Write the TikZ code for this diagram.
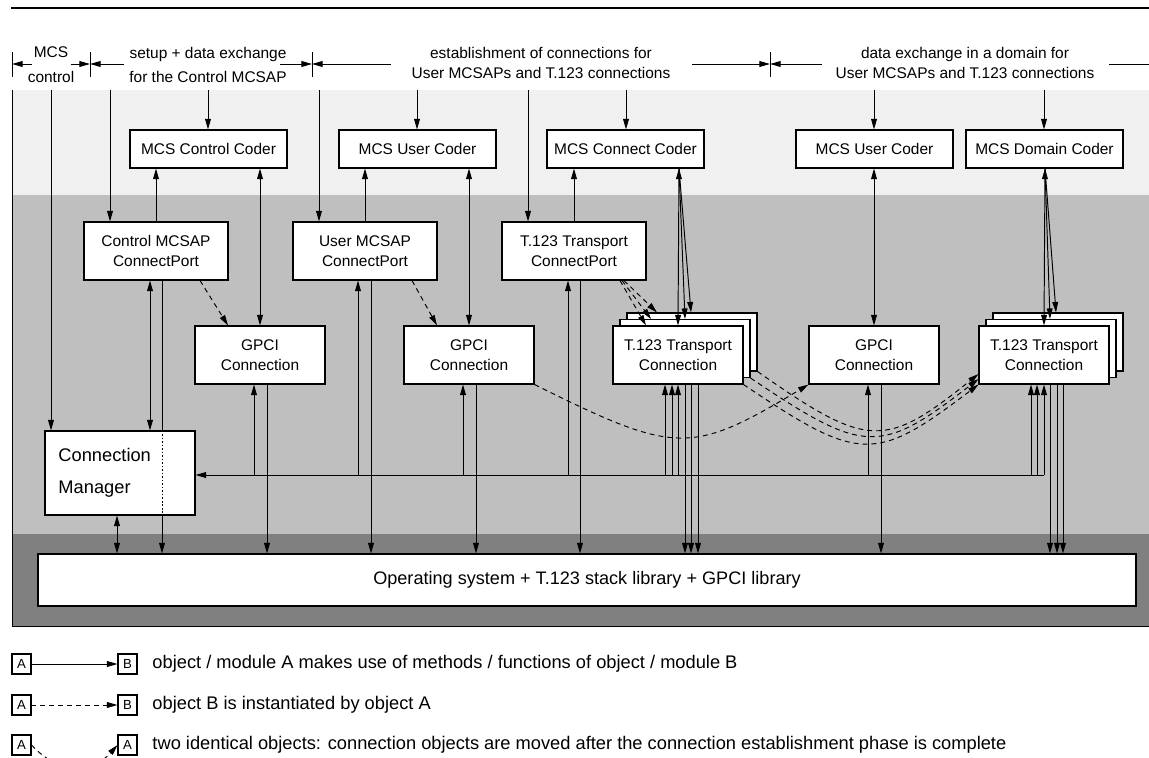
\documentclass[tikz,border=0pt]{standalone}
\usepackage{fontspec}
\setmainfont{Liberation Sans}
\usetikzlibrary{arrows.meta}
\definecolor{layerlight}{gray}{0.941}
\definecolor{layermid}{gray}{0.749}
\definecolor{layerdark}{gray}{0.502}
\begin{document}
\begin{tikzpicture}[x=0.02cm, y=-0.02cm,
  font=\fontsize{8.8}{11.3}\selectfont,
  line width=0.55pt,
  >={Triangle[length=6pt,width=3.3pt]},
  box/.style={draw, fill=white, line width=0.6pt, inner sep=0pt, align=center},
  sz/.style 2 args={minimum width=#1*0.02cm, minimum height=#2*0.02cm},
  coder/.style={box, sz={157}{38}},
  port/.style={box, sz={144}{58}},
  conn/.style={box, sz={130}{58}},
  inst/.style={->, dash pattern=on 2.8pt off 2.3pt},
  legbox/.style={box, sz={19}{20}, font=\fontsize{7.5}{9}\selectfont},
  legtext/.style={anchor=west, inner sep=0pt, font=\fontsize{10.4}{12}\selectfont},
  hdwide/.style={align=center, font=\fontsize{8.8}{14}\selectfont},
  hdnarrow/.style={align=center, font=\fontsize{8.8}{11.3}\selectfont},
]
\useasboundingbox (0,0) rectangle (1149,757);
\clip (0,0) rectangle (1149,757);

% ---- layers of the architecture ----
\fill[layerlight] (12,90) rectangle (1149,195);
\fill[layermid] (12,195) rectangle (1149,534);
\fill[layerdark] (12,534) rectangle (1149,626);
\draw (12,90) -- (12,626) -- (1149,626);
\draw[line width=0.7pt] (11,8) -- (1149,8);

% ---- phase headings with dimension marks ----
\foreach \x/\n in {12/t0, 90/t1, 312/t2, 770/t3} {
  \coordinate (\n) at (\x,64);
  \draw (\x,52) -- (\x,77);
}
\node[hdwide] (hdA) at (51,64.5) {MCS\\control};
\node[hdwide] (hdB) at (208,65) {setup + data exchange\\for the Control MCSAP};
\node[hdnarrow] (hdC) at (541,63) {establishment of connections for\\User MCSAPs and T.123 connections};
\node[hdnarrow] (hdD) at (965,63) {data exchange in a domain for\\User MCSAPs and T.123 connections};
\draw[->] (32,64) -- (t0);
\draw[->] (71,64) -- (t1);
\draw[->] (124,64) -- (t1);
\draw[->] (280,64) -- (t2);
\draw[->] (391,64) -- (t2);
\draw[->] (692,64) -- (t3);
\draw[->] (822,64) -- (t3);
\draw (1109,64) -- (1149,64);

% ---- coders ----
\node[coder] (ccoder)  at (208.5,149) {MCS Control Coder};
\node[coder] (ucoder1) at (417.5,149) {MCS User Coder};
\node[coder] (kcoder)  at (625.5,149) {MCS Connect Coder};
\node[coder] (ucoder2) at (874.5,149) {MCS User Coder};
\node[coder] (dcoder)  at (1044.5,149) {MCS Domain Coder};

% ---- connect ports ----
\node[port] (cport1) at (156,251) {Control MCSAP\\ConnectPort};
\node[port] (uport)  at (365,251) {User MCSAP\\ConnectPort};
\node[port] (tport)  at (574,251) {T.123 Transport\\ConnectPort};

% ---- connection objects ----
\node[conn] (gpci1) at (260,355) {GPCI\\Connection};
\node[conn] (gpci2) at (469,355) {GPCI\\Connection};
\node[conn] (tconn1c) at (692,342) {};
\node[conn] (tconn1b) at (685,348.5) {};
\node[conn] (tconn1)  at (678,355) {T.123 Transport\\Connection};
\node[conn] (gpci3) at (874,355) {GPCI\\Connection};
\node[conn] (tconn2c) at (1058,342) {};
\node[conn] (tconn2b) at (1051,348.5) {};
\node[conn] (tconn2)  at (1044,355) {T.123 Transport\\Connection};

% ---- connection manager and operating system ----
\node[box, sz={150}{84}] (cm) at (120,473) {};
\node[anchor=west, inner sep=0pt, align=left, font=\fontsize{10.4}{18.1}\selectfont] (cmlabel) at (58,473) {Connection\\Manager};
\node[box, sz={1098}{52}, font=\fontsize{10.3}{12}\selectfont] (os) at (587,580) {Operating system + T.123 stack library + GPCI library};

\coordinate (bandtop) at (0,90);
\coordinate (bus) at (0,475);

% ---- calls entering from the phases above ----
\foreach \x/\n in {51/cm, 110/cport1, 208/ccoder, 319/uport, 417/ucoder1, 528/tport, 626/kcoder, 874/ucoder2, 1044/dcoder}
  \draw[->] (bandtop -| \x,0) -- (\n.north -| \x,0);

% ---- ports use their coders ----
\draw[->] (cport1.north) -- (ccoder.south -| cport1.north);
\draw[->] (uport.north) -- (ucoder1.south -| uport.north);
\draw[->] (tport.north) -- (kcoder.south -| tport.north);

% ---- coders and connection objects ----
\draw[<->] (ccoder.south -| gpci1.north) -- (gpci1.north);
\draw[<->] (ucoder1.south -| gpci2.north) -- (gpci2.north);
\draw[<->] (ucoder2.south -| gpci3.north) -- (gpci3.north);
\draw[<->] (kcoder.south -| 679,0) -- (tconn1.north);
\draw[->] (kcoder.south -| 679,0) -- (tconn1b.north -| 685,0);
\draw[->] (kcoder.south -| 679,0) -- (tconn1c.north -| 691,0);
\draw[<->] (dcoder.south -| 1045,0) -- (tconn2.north);
\draw[->] (dcoder.south -| 1045,0) -- (tconn2b.north -| 1050,0);
\draw[->] (dcoder.south -| 1045,0) -- (tconn2c.north -| 1056,0);

% ---- instantiation by the ports ----
\draw[inst] (cport1.south -| 200,0) -- (gpci1.north -| 228,0);
\draw[inst] (uport.south -| 412,0) -- (gpci2.north -| 437,0);
\draw[inst] (tport.south -| 620,0) -- (tconn1.north -| 646,0);
\draw[inst] (tport.south -| 622,0) -- (tconn1b.north -| 651,0);
\draw[inst] (tport.south -| 624,0) -- (tconn1c.north -| 657,0);

% ---- connection manager links ----
\draw[<->] (cport1.south -| 150,0) -- (cm.north -| 150,0);
\draw (cport1.south -| 162,0) -- (cm.north -| 162,0);
\draw[dash pattern=on 1pt off 1pt] (cm.north -| 162,0) -- (cm.south -| 162,0);
\draw[->] (cm.south -| 162,0) -- (os.north -| 162,0);
\draw[<->] (cm.south -| 117,0) -- (os.north -| 117,0);

% ---- common bus towards the connection manager ----
\draw[->] (bus -| 1044,0) -- (bus -| cm.east);
\foreach \n/\x in {gpci1/254, uport/358, gpci2/463, tport/568, tconn1/665, tconn1/672, tconn1/678, gpci3/868, tconn2/1031, tconn2/1037, tconn2/1044}
  \draw[->] (bus -| \x,0) -- (\n.south -| \x,0);

% ---- calls into the operating system ----
\foreach \n/\x in {gpci1/267, uport/371, gpci2/476, tport/580, tconn1/685, tconn1/691, tconn1/698, gpci3/881, tconn2/1050, tconn2/1057, tconn2/1063}
  \draw[->] (\n.south -| \x,0) -- (os.north -| \x,0);

% ---- objects moved after establishment ----
\draw[inst] (gpci2.south east) .. controls (676,455) and (691,455) .. (gpci3.south west);
\draw[inst] (tconn1.south east) .. controls (860,463) and (875,463) .. (tconn2.south west);
\draw[inst] (tconn1b.south east) .. controls (865,455) and (880,455) .. (tconn2.west |- 0,379);
\draw[inst] (tconn1c.south east) .. controls (868,449) and (885,449) .. (tconn2.west |- 0,374);

% ---- legend ----
\node[legbox] (lgA1) at (21.5,664) {A};
\node[legbox] (lgB1) at (127.5,664) {B};
\draw[->] (lgA1) -- (lgB1);
\node[legtext] (lgT1) at (152,664) {object / module A makes use of methods / functions of object / module B};

\node[legbox] (lgA2) at (21.5,705) {A};
\node[legbox] (lgB2) at (127.5,705) {B};
\draw[inst] (lgA2) -- (lgB2);
\node[legtext] (lgT2) at (152,705) {object B is instantiated by object A};

\node[legbox] (lgA3) at (21.5,745) {A};
\node[legbox] (lgA3b) at (127.5,745) {A};
\draw[inst] (lgA3.east) .. controls (58,774) and (92,774) .. (lgA3b.west);
\node[legtext] (lgT3) at (152,745) {two identical objects: connection objects are moved after the connection establishment phase is complete};
\end{tikzpicture}
\end{document}
